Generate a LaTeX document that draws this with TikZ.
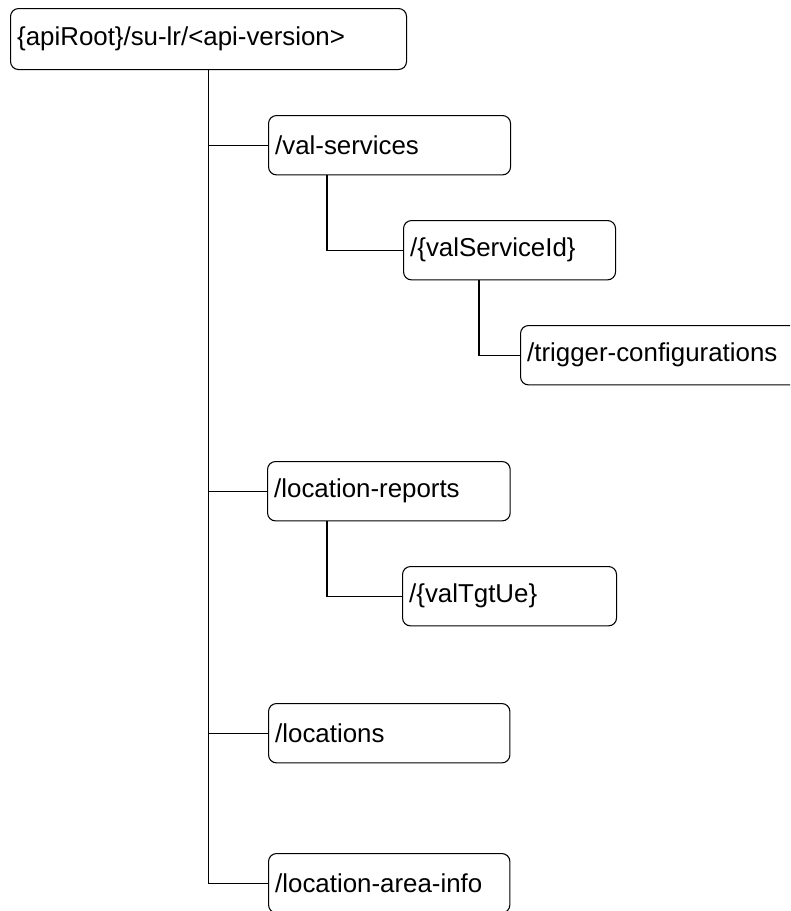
\documentclass[tikz,border=0pt]{standalone}
\usepackage{fontspec}
\setmainfont{Liberation Sans}
\usetikzlibrary{calc}

\begin{document}
\begin{tikzpicture}[x=0.75pt,y=-0.75pt,line width=0.8pt,
	res/.style={draw,rounded corners=6pt,anchor=north west,align=left,inner xsep=5pt,
		minimum height=44.5pt,font=\fontsize{19.4}{23}\selectfont}]
	\useasboundingbox (0,0) rectangle (790,911);
	\clip (0,0) rectangle (790,911);
	% resources
	\node[res,text width=287pt,minimum height=45.75pt] (root) at (10,8) {\{apiRoot\}/su-lr/\textless api-version\textgreater};
	\node[res,text width=171.5pt] (vs) at (268,115) {/val-services};
	\node[res,text width=149pt] (vsid) at (403,220) {/\{valServiceId\}};
	\node[res,text width=200pt] (tc) at (520,325) {/trigger-configurations};
	\node[res,text width=172pt] (lr) at (267,461) {/location-reports};
	\node[res,text width=150.5pt] (vt) at (402,566) {/\{valTgtUe\}};
	\node[res,text width=171pt] (loc) at (268,703) {/locations};
	\node[res,text width=171pt] (lai) at (268,853) {/location-area-info};
	% tree lines
	\draw (root.south) |- (vs.west);
	\draw (root.south) |- (lr.west);
	\draw (root.south) |- (loc.west);
	\draw (root.south) |- (lai.west);
	\draw ($(vs.south west)+(59,0)$) |- (vsid.west);
	\draw ($(vsid.south west)+(76,0)$) |- (tc.west);
	\draw ($(lr.south west)+(60,0)$) |- (vt.west);
\end{tikzpicture}
\end{document}
